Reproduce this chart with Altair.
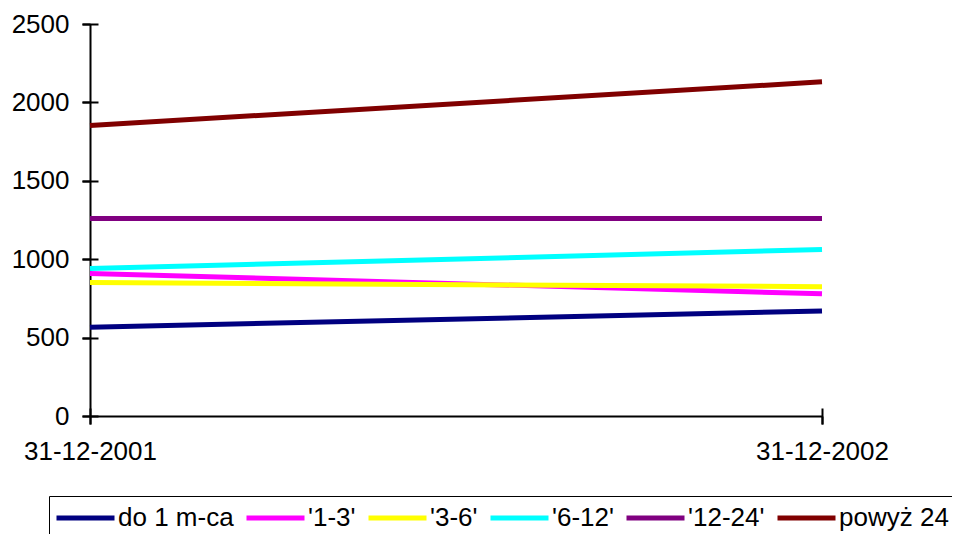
import altair as alt
import pandas as pd

dates = ["31-12-2001", "31-12-2002"]
series = ["do 1 m-ca", "'1-3'", "'3-6'", "'6-12'", "'12-24'", "powyż 24"]
colors = ["#000080", "#FF00FF", "#FFFF00", "#00FFFF", "#800080", "#800000"]
do_1 = [566, 670]
s_1_3 = [909, 779]
s_3_6 = [851, 825]
s_6_12 = [940, 1062]
s_12_24 = [1260, 1260]
pow_24 = [1853, 2131]
y_ticks = [0, 500, 1000, 1500, 2000, 2500]

rows = []
for name, vals in zip(series, [do_1, s_1_3, s_3_6, s_6_12, s_12_24, pow_24]):
    for d, v in zip(dates, vals):
        rows.append({"date": d, "series": name, "value": v})
df = pd.DataFrame(rows)

FONT = "Liberation Sans"
x_scale = alt.Scale(type="point", padding=0, domain=dates)
y_scale = alt.Scale(domain=[0, 2500], nice=False)

axis_common = dict(
    domainColor="black", domainWidth=2, tickColor="black", tickWidth=2,
    labelFont=FONT, labelFontSize=26, labelColor="black", grid=False, title=None,
)

color = alt.Color(
    "series:N",
    scale=alt.Scale(domain=series, range=colors),
    sort=series,
    legend=alt.Legend(
        orient="none", legendX=-41, legendY=472, direction="horizontal", columns=6,
        symbolType="M-1,0H3", symbolSize=841, symbolStrokeWidth=5,
        labelFont=FONT, labelFontSize=26, labelColor="black", labelLimit=400,
        strokeColor="black", padding=5, columnPadding=2, labelOffset=30, title=None,
    ),
)

main = alt.Chart(df).mark_line(strokeWidth=5).encode(
    x=alt.X("date:O", scale=x_scale, sort=dates,
            axis=alt.Axis(orient="bottom", tickSize=8, labelPadding=14, labelAngle=0, **axis_common)),
    y=alt.Y("value:Q", scale=y_scale,
            axis=alt.Axis(orient="left", values=y_ticks, format="d", tickSize=8, labelPadding=13,
                          **axis_common)),
    color=color,
)

ticks = alt.Chart(df).mark_line(opacity=0).encode(
    x=alt.X("date:O", scale=x_scale, sort=dates,
            axis=alt.Axis(orient="bottom", tickSize=16, offset=-8, labels=False, domain=False,
                          tickColor="black", tickWidth=2, grid=False, title=None)),
    y=alt.Y("value:Q", scale=y_scale,
            axis=alt.Axis(orient="left", values=y_ticks, tickSize=16, offset=-8, labels=False,
                          domain=False, tickColor="black", tickWidth=2, grid=False, title=None)),
    detail="series:N",
)

chart = alt.layer(main, ticks).resolve_axis(x="independent", y="independent").properties(
    width=732, height=392,
    background="white",
    autosize=alt.AutoSizeParams(type="none"),
    padding={"left": 82, "top": 16, "right": 130, "bottom": 118},
).configure_view(stroke=None)

chart.save("out.html", embed_options={"renderer": "svg", "actions": False})
